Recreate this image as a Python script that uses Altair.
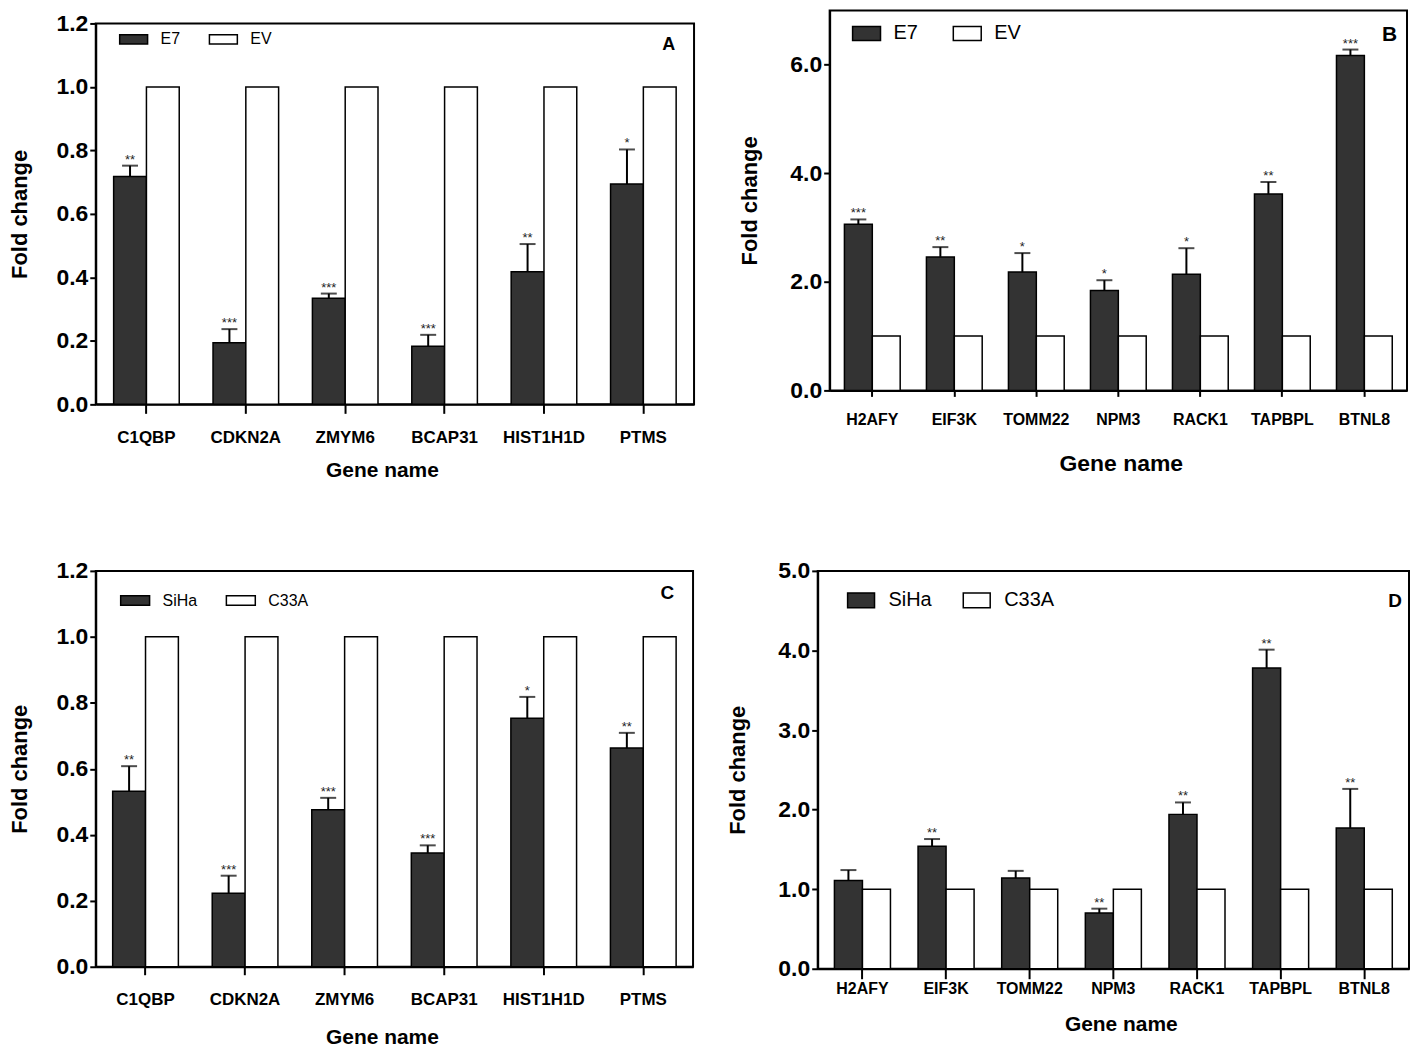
import altair as alt
import pandas as pd

FONT = "Liberation Sans"

# ---------------- data ----------------
a_genes = ["C1QBP", "CDKN2A", "ZMYM6", "BCAP31", "HIST1H1D", "PTMS"]
a_series = ["E7", "EV"]
a_e7 = [0.718, 0.194, 0.334, 0.183, 0.418, 0.694]
a_e7_top = [0.752, 0.237, 0.349, 0.219, 0.505, 0.803]
a_ev = [1.0, 1.0, 1.0, 1.0, 1.0, 1.0]
a_stars = ["**", "***", "***", "***", "**", "*"]

b_genes = ["H2AFY", "EIF3K", "TOMM22", "NPM3", "RACK1", "TAPBPL", "BTNL8"]
b_series = ["E7", "EV"]
b_e7 = [3.06, 2.46, 2.18, 1.84, 2.14, 3.62, 6.17]
b_e7_top = [3.15, 2.64, 2.53, 2.03, 2.62, 3.84, 6.28]
b_ev = [1.0, 1.0, 1.0, 1.0, 1.0, 1.0, 1.0]
b_stars = ["***", "**", "*", "*", "*", "**", "***"]

c_genes = ["C1QBP", "CDKN2A", "ZMYM6", "BCAP31", "HIST1H1D", "PTMS"]
c_series = ["SiHa", "C33A"]
c_siha = [0.532, 0.223, 0.476, 0.345, 0.753, 0.663]
c_siha_top = [0.608, 0.276, 0.512, 0.368, 0.818, 0.709]
c_c33a = [1.0, 1.0, 1.0, 1.0, 1.0, 1.0]
c_stars = ["**", "***", "***", "***", "*", "**"]

d_genes = ["H2AFY", "EIF3K", "TOMM22", "NPM3", "RACK1", "TAPBPL", "BTNL8"]
d_series = ["SiHa", "C33A"]
d_siha = [1.11, 1.54, 1.14, 0.70, 1.94, 3.78, 1.77]
d_siha_top = [1.24, 1.63, 1.23, 0.755, 2.09, 4.01, 2.26]
d_c33a = [1.0, 1.0, 1.0, 1.0, 1.0, 1.0, 1.0]
d_stars = ["", "**", "", "**", "**", "**", "**"]

a_yticks = [0.0, 0.2, 0.4, 0.6, 0.8, 1.0, 1.2]
b_yticks = [0.0, 2.0, 4.0, 6.0]
d_yticks = [0.0, 1.0, 2.0, 3.0, 4.0, 5.0]


def panel(genes, series, dark, white, tops, stars, letter, ymax, yticks, o):
    w, h = o["w"], o["h"]
    bars_df = pd.DataFrame({
        "gene": genes + genes,
        "series": [series[0]] * len(genes) + [series[1]] * len(genes),
        "value": dark + white,
    })
    err_df = pd.DataFrame({
        "gene": genes,
        "series": [series[0]] * len(genes),
        "value": dark,
        "top": tops,
        "star": stars,
    })
    xaxis = alt.Axis(
        title="Gene name", labelAngle=0, labelFontSize=o["xlfs"], labelFontWeight="bold",
        tickSize=o["xtick"], tickWidth=2, domainWidth=2, labelPadding=o["xlabpad"],
        titleFontSize=o["xtitlesize"], titleFontWeight="bold", titleY=o["xtitley"],
        titleX=o["xtitlex"], titleBaseline="middle", titleAlign="center",
    )
    yaxis = alt.Axis(
        title="Fold change", values=yticks, format=".1f", labelFontSize=23,
        labelFontWeight="bold", tickSize=6, tickWidth=2, domainWidth=2,
        labelPadding=2, titleFontSize=22, titleFontWeight="bold",
        titleX=o["ytitlex"], titleY=h / 2, titleBaseline="middle", titleAlign="center",
    )
    xs = alt.Scale(paddingInner=o["pi"], paddingOuter=o["po"])
    ys = alt.Scale(domain=[0, ymax], nice=False)

    def X():
        return alt.X("gene:N", sort=genes, scale=xs, axis=xaxis)

    def XO():
        return alt.XOffset("series:N", sort=series,
                           scale=alt.Scale(domain=series, paddingInner=0, paddingOuter=0))

    def Y(f):
        return alt.Y(f, scale=ys, axis=yaxis)

    bars = alt.Chart(bars_df).mark_bar(stroke="black", strokeWidth=1.5).encode(
        x=X(), xOffset=XO(), y=Y("value:Q"),
        color=alt.Color(
            "series:N",
            scale=alt.Scale(domain=series, range=["#333333", "#ffffff"]),
            legend=alt.Legend(
                title=None, orient="none", legendX=o["lx"], legendY=o["ly"],
                direction="horizontal", symbolType=o["sym"], symbolSize=o["symsize"],
                symbolStrokeColor="black", symbolStrokeWidth=1.5, symbolOpacity=1,
                labelFontSize=o["lfs"], labelOffset=o["loff"], columnPadding=o["colpad"],
                labelFont=FONT, labelColor="black",
            ),
        ),
    )
    err = alt.Chart(err_df).mark_rule(color="black", strokeWidth=2).encode(
        x=X(), xOffset=XO(), y=Y("value:Q"), y2="top:Q"
    )
    cap = alt.Chart(err_df).mark_tick(color="black", thickness=2, size=o["cap"]).encode(
        x=X(), xOffset=XO(), y=Y("top:Q")
    )
    star = alt.Chart(err_df).mark_text(fontSize=13, baseline="alphabetic", dy=-2,
                                        color="#222", font=FONT).encode(
        x=X(), xOffset=XO(), y=Y("top:Q"), text="star:N"
    )
    lab = alt.Chart(pd.DataFrame({"t": [letter]})).mark_text(
        fontSize=o["letfs"], fontWeight="bold", align="right", baseline="top",
        color="black", font=FONT,
    ).encode(text="t:N", x=alt.value(w - o["letr"]), y=alt.value(o["lett"]))
    return alt.layer(bars, err, cap, star, lab).properties(width=w, height=h)


rectA = "M-1,-0.33H1V0.33H-1Z"
rectB = "M-1,-0.5H1V0.5H-1Z"

A = panel(a_genes, a_series, a_e7, a_ev, a_e7_top, a_stars, "A", 1.2, a_yticks, dict(
    w=600, h=382, xtick=9, xlabpad=16, xlfs=17, xtitlesize=21, xtitley=66, xtitlex=287,
    ytitlex=-76, pi=0.34, po=0.18, lx=23, ly=1, sym=rectA, symsize=784, lfs=16, loff=12,
    colpad=26, cap=16, letfs=18, letr=19, lett=13))
B = panel(b_genes, b_series, b_e7, b_ev, b_e7_top, b_stars, "B", 7.0, b_yticks, dict(
    w=579, h=381, xtick=6, xlabpad=15, xlfs=16, xtitlesize=23, xtitley=73, xtitlex=292,
    ytitlex=-80, pi=0.32, po=0.18, lx=22, ly=8, sym=rectB, symsize=784, lfs=20, loff=12,
    colpad=32, cap=16, letfs=21, letr=10, lett=14))
C = panel(c_genes, c_series, c_siha, c_c33a, c_siha_top, c_stars, "C", 1.2, a_yticks, dict(
    w=599, h=397, xtick=8, xlabpad=17, xlfs=17, xtitlesize=21, xtitley=71, xtitlex=287,
    ytitlex=-76, pi=0.34, po=0.17, lx=24, ly=14, sym=rectA, symsize=841, lfs=16, loff=12,
    colpad=26, cap=16, letfs=19, letr=19, lett=13))
D = panel(d_genes, d_series, d_siha, d_c33a, d_siha_top, d_stars, "D", 5.0, d_yticks, dict(
    w=593, h=399, xtick=10, xlabpad=2, xlfs=16, xtitlesize=21, xtitley=56, xtitlex=304,
    ytitlex=-80, pi=0.33, po=0.2, lx=29, ly=15, sym="M-1,-0.55H1V0.55H-1Z", symsize=729,
    lfs=20, loff=13, colpad=28, cap=16, letfs=19, letr=7, lett=21))

# tiny invisible cell above panel A so that panel B can sit higher than A
spacer = alt.Chart(pd.DataFrame({"v": [0]})).mark_rect(opacity=0).encode(
    x=alt.value(0), x2=alt.value(1), y=alt.value(0), y2=alt.value(1)
).properties(width=1, height=1, view=alt.ViewBackground(stroke=None, strokeWidth=0))


def ind(c):
    return c.resolve_scale(color="independent", xOffset="independent",
                           x="independent", y="independent").resolve_legend(color="independent")


colA = ind(alt.vconcat(spacer, A, spacing=0))
row1 = ind(alt.hconcat(colA, B, spacing=43))
row2 = ind(alt.hconcat(C, D, spacing=32))

chart = ind(alt.vconcat(row1, row2, spacing=78)).properties(
    padding=0, background="white"
).configure_view(stroke="black", strokeWidth=2).configure_axis(
    labelFont=FONT, titleFont=FONT, labelColor="black", titleColor="black",
    domainColor="black", tickColor="black", grid=False,
).configure_legend(labelFont=FONT)

chart.save("out.html", embed_options={"renderer": "svg", "actions": False})
